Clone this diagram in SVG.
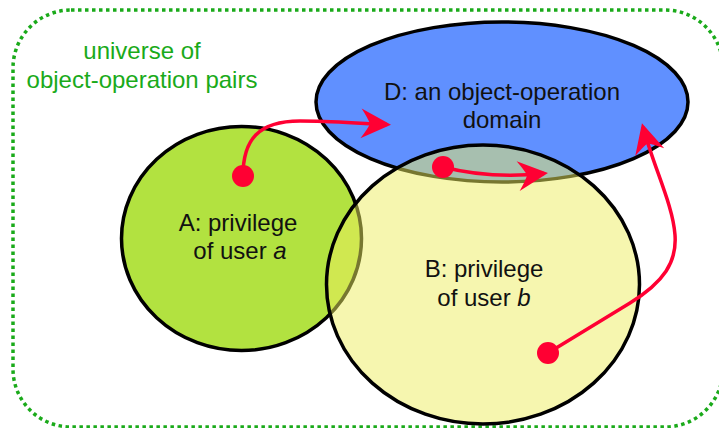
<svg xmlns="http://www.w3.org/2000/svg" width="719" height="428" viewBox="0 0 719 428">
  <style>
    .set { stroke: #000; stroke-width: 3.5; }
    .label { font-family: "Liberation Sans", Arial, sans-serif; font-size: 24px; fill: #111; text-anchor: middle; }
    .universe { font-family: "Liberation Sans", Arial, sans-serif; font-size: 24px; fill: #1aaa1a; text-anchor: middle; }
    .flow { fill: none; stroke: #ff0033; stroke-width: 3.5; }
    .dot { fill: #ff0033; }
  </style>
  <defs>
    <marker id="barb" markerUnits="userSpaceOnUse" markerWidth="40" markerHeight="40" viewBox="-36 -20 40 40" refX="-4" refY="0" orient="auto" overflow="visible">
      <path d="M0,0 L-30,-15 Q-23,-5 -21,0 Q-23,5 -30,15 Z" fill="#ff0033"/>
    </marker>
  </defs>

  <!-- universe boundary -->
  <g id="universe">
    <rect x="13" y="10" width="710" height="417" rx="58" ry="58" fill="none" stroke="#1aaa1a" stroke-width="3.5" stroke-dasharray="3.5 3.5"/>
    <text class="universe" x="142" y="59">universe of</text>
    <text class="universe" x="142" y="88">object-operation pairs</text>
  </g>

  <!-- A: privilege of user a -->
  <g id="setA">
    <ellipse class="set" cx="241.5" cy="238.5" rx="120" ry="112" fill="#b2e240"/>
    <text class="label" x="238" y="231">A: privilege</text>
    <text class="label" x="240" y="259">of user <tspan font-style="italic">a</tspan></text>
  </g>

  <!-- D: object-operation domain -->
  <g id="setD">
    <ellipse class="set" cx="502" cy="102" rx="186" ry="80" fill="#6090ff"/>
    <text class="label" x="502" y="100">D: an object-operation</text>
    <text class="label" x="502" y="128">domain</text>
  </g>

  <!-- B: privilege of user b (translucent so overlaps show) -->
  <g id="setB">
    <ellipse class="set" cx="483" cy="284.5" rx="156.5" ry="139.5" fill="#eeee60" fill-opacity="0.5"/>
    <text class="label" x="484" y="277">B: privilege</text>
    <text class="label" x="484" y="306">of user <tspan font-style="italic">b</tspan></text>
  </g>

  <!-- connectors -->
  <g id="connectors">
    <path class="flow" d="M243,176 C243,140 258,121 300,121 C330,121 352,123 387,124.5" marker-end="url(#barb)"/>
    <circle class="dot" cx="243" cy="176" r="11"/>

    <path class="flow" d="M443,167 C470,174 500,178 544,173.5" marker-end="url(#barb)"/>
    <circle class="dot" cx="443" cy="167" r="11"/>

    <path class="flow" d="M548,353 L630,303 C664,282 677,262 675,235 C673,205 654,168 643,127" marker-end="url(#barb)"/>
    <circle class="dot" cx="548" cy="353" r="11"/>
  </g>
</svg>
